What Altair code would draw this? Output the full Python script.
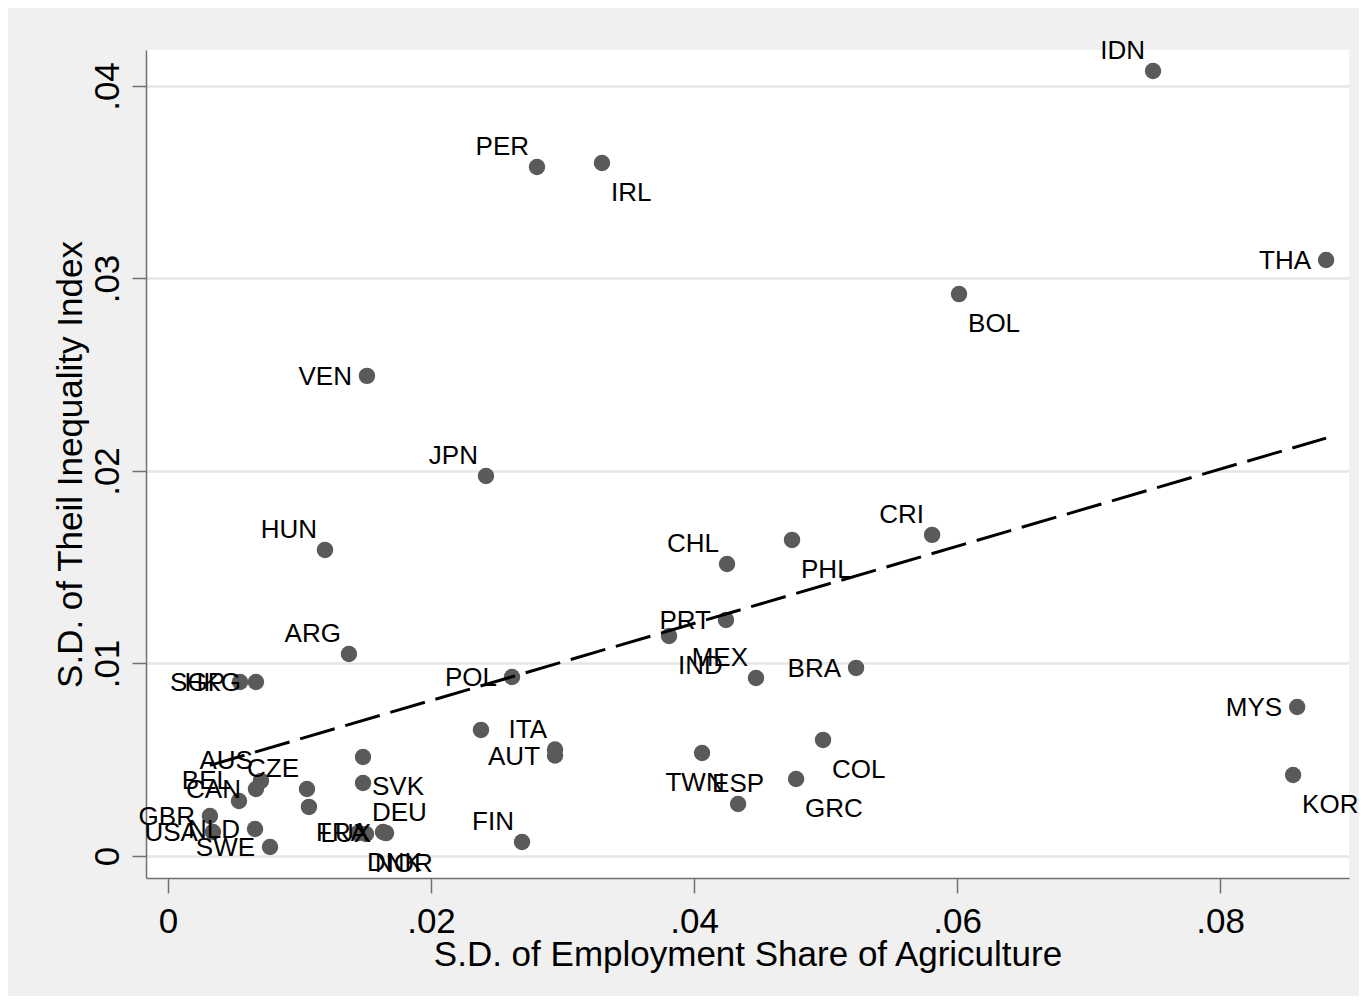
import altair as alt
import pandas as pd

# countries (two points carry no label in the original figure)
country = ["IDN", "PER", "IRL", "THA", "BOL", "VEN", "JPN", "CRI", "HUN", "PHL",
           "CHL", "PRT", "IND", "MEX", "BRA", "ARG", "POL", "SGP", "HKG", "MYS",
           "KOR", "", "ITA", "AUT", "COL", "TWN", "ESP", "GRC", "AUS", "CZE",
           "", "BEL", "CAN", "SVK", "DEU", "GBR", "USA", "NLD", "SWE", "FIN",
           "DNK", "NOR", "FRA", "LUX"]

# S.D. of employment share of agriculture
emp_sd = [0.0749, 0.02806, 0.0330, 0.08806, 0.06015, 0.01513, 0.02418, 0.0581, 0.01194, 0.04745,
          0.04251, 0.04243, 0.0381, 0.04471, 0.05232, 0.01376, 0.02616, 0.00548, 0.00669, 0.08586,
          0.08555, 0.0238, 0.02943, 0.02943, 0.04981, 0.04061, 0.04335, 0.04776, 0.00707, 0.01057,
          0.01072, 0.0054, 0.00669, 0.01483, 0.01483, 0.00319, 0.00342, 0.00662, 0.00776, 0.02692,
          0.01445, 0.01506, 0.01635, 0.01658]

# S.D. of Theil inequality index
theil_sd = [0.04078, 0.03579, 0.0360, 0.03096, 0.02919, 0.02494, 0.01974, 0.01668, 0.0159, 0.01642,
            0.01517, 0.01226, 0.01143, 0.00925, 0.00977, 0.01049, 0.0093, 0.00904, 0.00904, 0.00774,
            0.00421, 0.00655, 0.00553, 0.00522, 0.00603, 0.00535, 0.0027, 0.0040, 0.0039, 0.00348,
            0.00255, 0.00286, 0.00348, 0.00514, 0.00379, 0.00208, 0.00125, 0.0014, 0.00047, 0.00073,
            0.00119, 0.00114, 0.00125, 0.00119]

# marker label clock position, as in Stata's mlabvposition
clock = [11, 11, 4, 9, 4, 9, 11, 11, 11, 4,
         11, 9, 4, 11, 9, 11, 9, 9, 9, 9,
         4, 9, 11, 9, 4, 6, 12, 4, 11, 11,
         9, 11, 9, 4, 4, 9, 9, 9, 9, 11,
         4, 4, 9, 9]

df = pd.DataFrame({"country": country, "x": emp_sd, "y": theil_sd, "clock": clock})

FONT = "Liberation Sans"

x_enc = alt.X("x:Q",
              scale=alt.Scale(domain=[-0.00167, 0.0898], nice=False, zero=False),
              axis=alt.Axis(values=[0, 0.02, 0.04, 0.06, 0.08],
                            labelExpr="datum.value == 0 ? '0' : substring(format(datum.value, '.2f'), 1)",
                            title="S.D. of Employment Share of Agriculture",
                            grid=False, domainColor="#707070", domainWidth=1.5,
                            tickColor="#707070", tickWidth=1.5, tickSize=15,
                            labelFont=FONT, labelFontSize=35, labelColor="black",
                            labelBaseline="alphabetic", labelPadding=39,
                            titleFont=FONT, titleFontSize=35, titleFontWeight="normal",
                            titleColor="black", titleBaseline="alphabetic", titleY=87))

y_enc = alt.Y("y:Q",
              scale=alt.Scale(domain=[-0.001143, 0.04187], nice=False, zero=False),
              axis=alt.Axis(values=[0, 0.01, 0.02, 0.03, 0.04],
                            labelExpr="datum.value == 0 ? '0' : substring(format(datum.value, '.2f'), 1)",
                            title="S.D. of Theil Inequality Index",
                            grid=True, gridColor="#e6e6e6", gridWidth=2.5,
                            domainColor="#707070", domainWidth=1.5,
                            tickColor="#707070", tickWidth=1.5, tickSize=14,
                            labelFont=FONT, labelFontSize=35, labelColor="black",
                            labelAngle=270, labelAlign="center", labelBaseline="alphabetic",
                            labelPadding=14,
                            titleFont=FONT, titleFontSize=35, titleFontWeight="normal",
                            titleColor="black", titleBaseline="alphabetic", titleX=-65))

base = alt.Chart(df)

points = base.mark_circle(size=270, color="#5a5a5a", opacity=1).encode(x=x_enc, y=y_enc)

# label offsets for each clock position
placement = {
    9: dict(align="right", dx=-15, dy=1),
    11: dict(align="right", dx=-8, dy=-20),
    4: dict(align="left", dx=9, dy=30),
    12: dict(align="center", dx=0, dy=-20),
    6: dict(align="center", dx=-7, dy=30),
}

labels = []
for pos, opts in placement.items():
    labels.append(
        base.transform_filter(alt.datum.clock == pos).mark_text(
            font=FONT, fontSize=26, color="black", baseline="middle", **opts
        ).encode(x="x:Q", y="y:Q", text="country:N")
    )

fit = base.transform_regression("x", "y").mark_line(
    color="black", strokeWidth=3, strokeDash=[36, 11]
).encode(x="x:Q", y="y:Q")

chart = alt.layer(points, *labels, fit).properties(
    width=1203,
    height=828,
    autosize=alt.AutoSizeParams(type="none"),
    padding={"left": 138, "top": 42, "right": 10, "bottom": 118},
    background="#f0f0f0",
).configure_view(fill="white", strokeWidth=0)

chart.save("out.html", embed_options={"renderer": "svg", "actions": False})
